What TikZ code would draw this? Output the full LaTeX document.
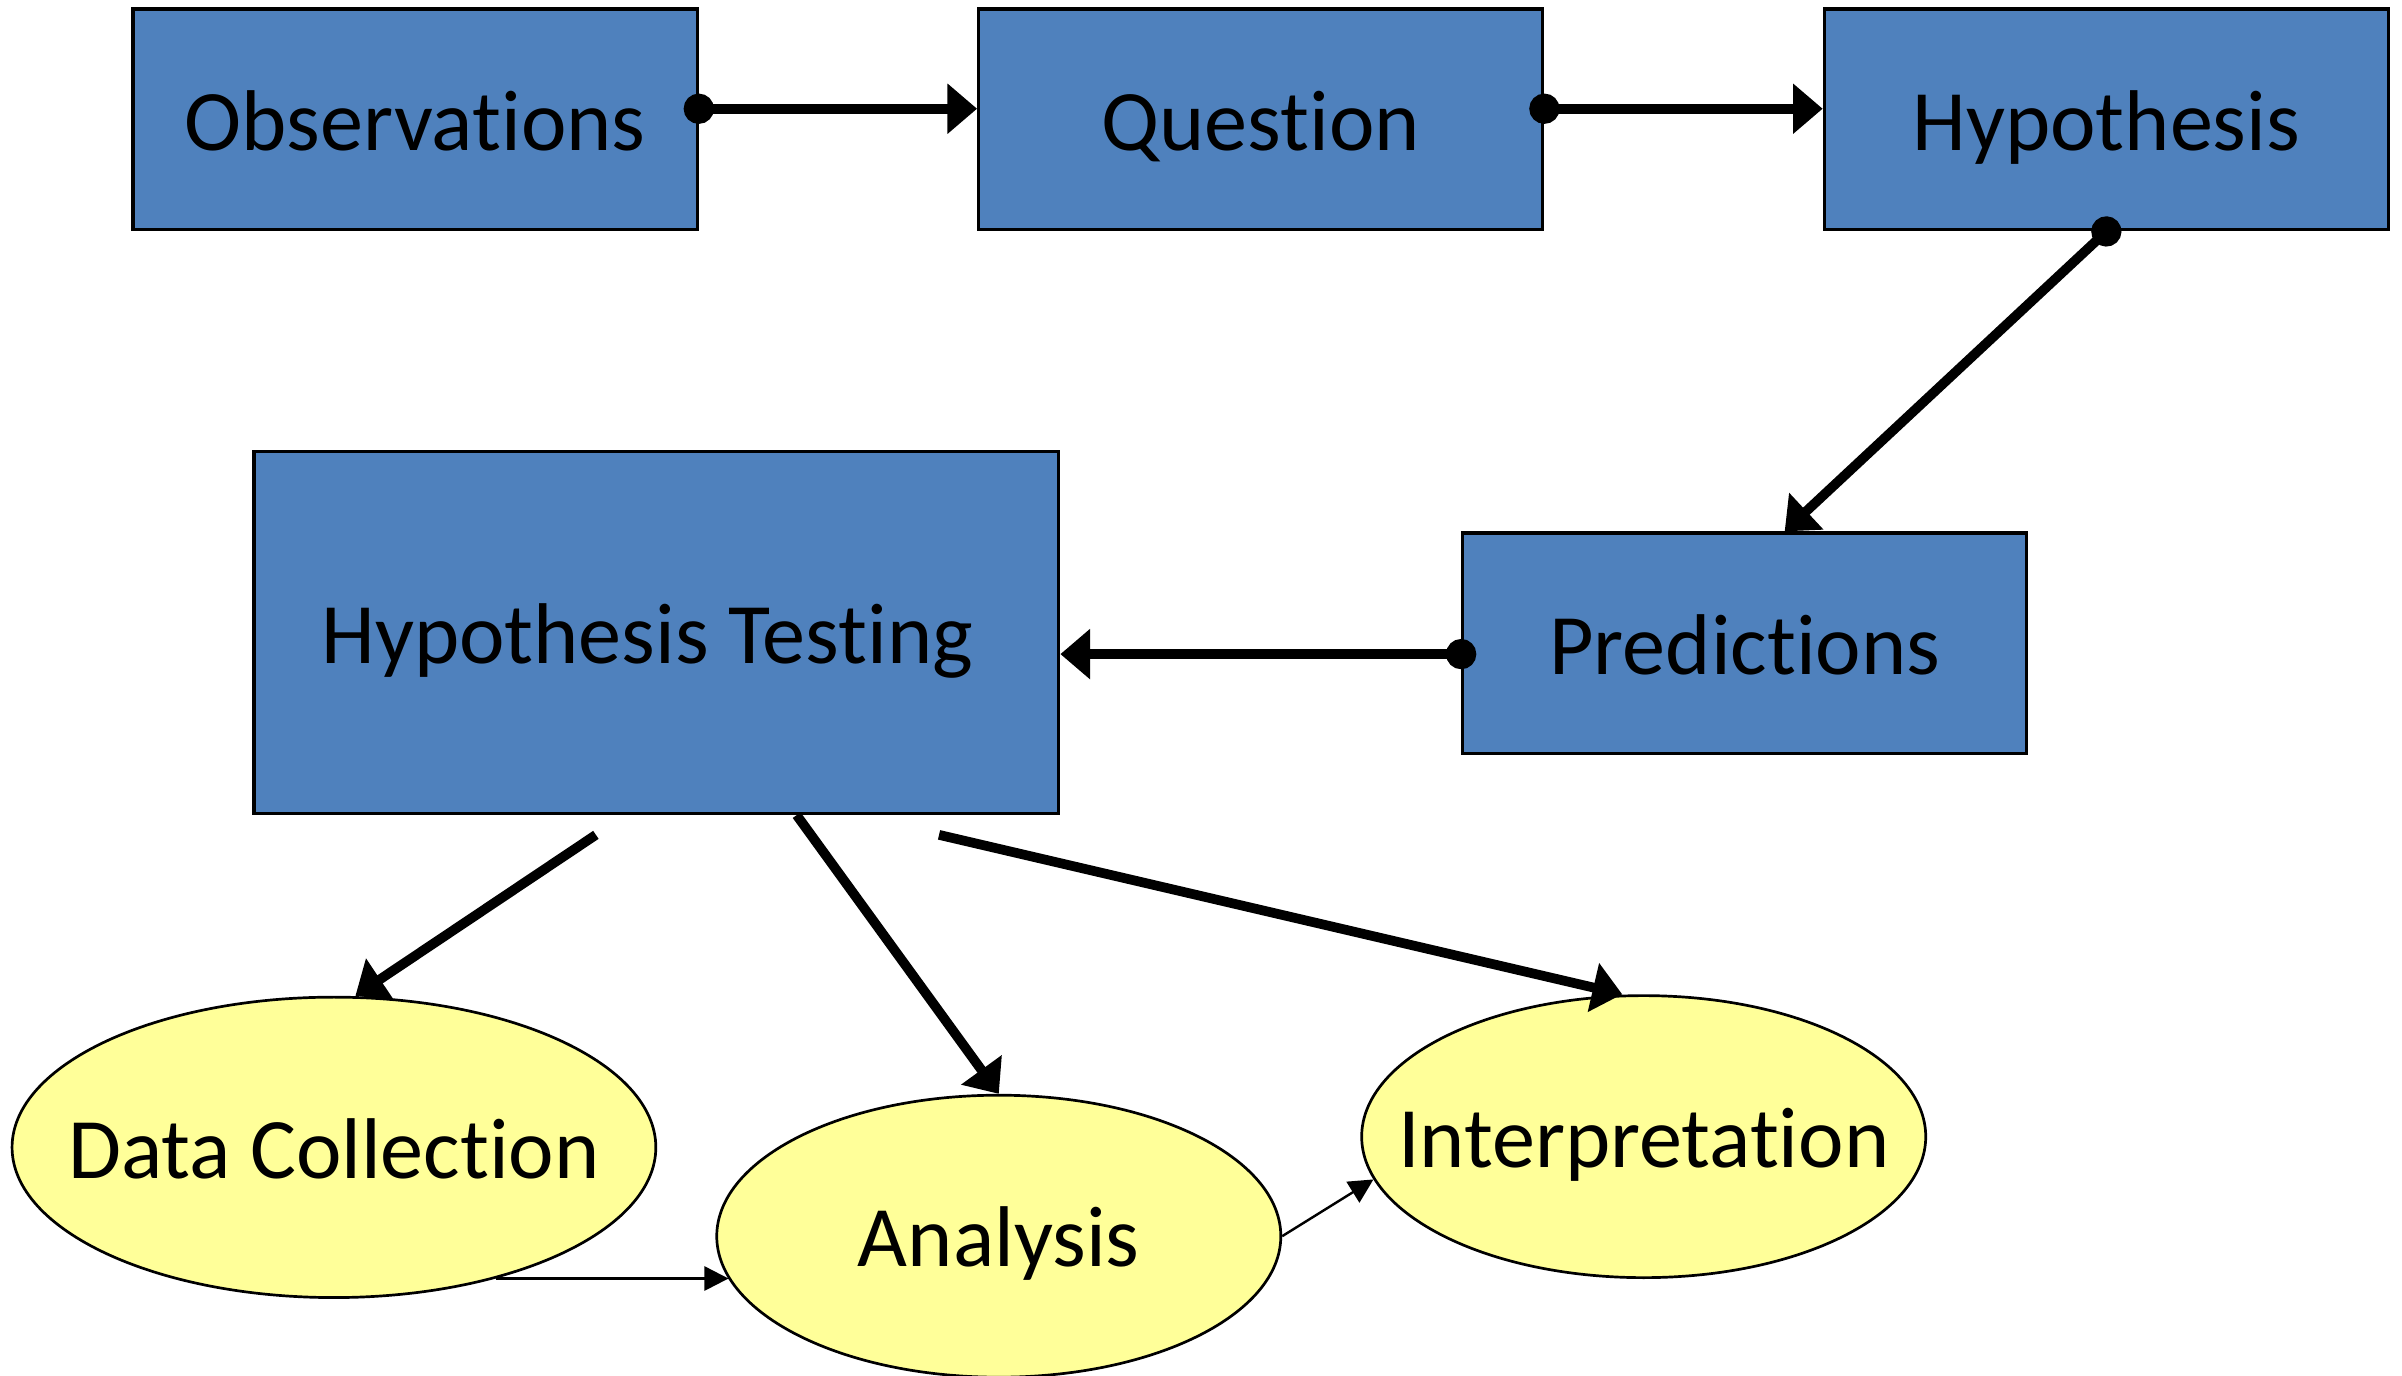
\documentclass[tikz,border=0pt]{standalone}
\usepackage{fontspec}
\setmainfont{Carlito}[Ligatures=NoCommon]
\usetikzlibrary{arrows.meta,shapes.geometric,calc}
\definecolor{boxblue}{HTML}{4F81BD}
\definecolor{ellyellow}{HTML}{FFFF99}
\begin{document}
\begin{tikzpicture}[x=0.01cm,y=-0.01cm,
  lbl/.style={font=\fontsize{16}{19}\selectfont,text height=15pt,text depth=3.6pt},
  stepbox/.style={lbl,rectangle,draw=black,line width=0.6pt,fill=boxblue,inner sep=0pt,
    minimum width=3.68cm,minimum height=1.44cm},
  stepell/.style={lbl,ellipse,draw=black,line width=0.5pt,fill=ellyellow,inner sep=0pt},
  thickarr/.style={line width=1.8pt,-{Triangle[length=5.5pt,width=9pt]}},
  dotarr/.style={thickarr,{Circle[length=5.6pt]}-{Triangle[length=5.5pt,width=9pt]},shorten <=-2.8pt},
  thinarr/.style={line width=0.45pt,-{Triangle[length=4.5pt,width=4.5pt]}}]
\useasboundingbox (0,0) rectangle (1568,898);
\node[stepbox] (obs) at (271,78) {Observations};
\node[stepbox] (que) at (823,78) {Question};
\node[stepbox] (hyp) at (1375,78) {Hypothesis};
\node[stepbox,minimum width=5.25cm,minimum height=2.36cm] (ht) at (428.5,413) {\hspace*{-0.12cm}Hypothesis Testing};
\node[stepbox] (pre) at (1139,420) {Predictions};
\node[stepell,minimum width=4.2cm,minimum height=1.96cm] (dc) at (218,749) {\makebox[0pt]{Data Collection}};
\node[stepell,minimum width=3.68cm,minimum height=1.84cm] (ana) at (652,807) {\makebox[0pt]{Analysis}};
\node[stepell,minimum width=3.68cm,minimum height=1.84cm] (int) at (1073,742) {\makebox[0pt]{Interpretation}};
\coordinate (s1) at (389,545);
\coordinate (s3) at (613,545);
\draw[dotarr] ([yshift=0.07cm]obs.east) -- ([yshift=0.07cm]que.west);
\draw[dotarr] ([yshift=0.07cm]que.east) -- ([yshift=0.07cm]hyp.west);
\draw[dotarr] (hyp.south) -- ([xshift=0.26cm]pre.north);
\draw[dotarr] ([yshift=-0.07cm]pre.west) -- ([yshift=-0.07cm]pre.west -| ht.east);
\draw[thickarr] (s1) -- ([xshift=0.14cm]dc.north);
\draw[thickarr] ([xshift=0.915cm]ht.south) -- (ana.north);
\draw[thickarr] (s3) -- ([xshift=-0.14cm]int.north);
\draw[thinarr] (dc.-39) -- (dc.-39 -| ana.189);
\draw[thinarr] (ana.east) -- (int.189);
\end{tikzpicture}
\end{document}
